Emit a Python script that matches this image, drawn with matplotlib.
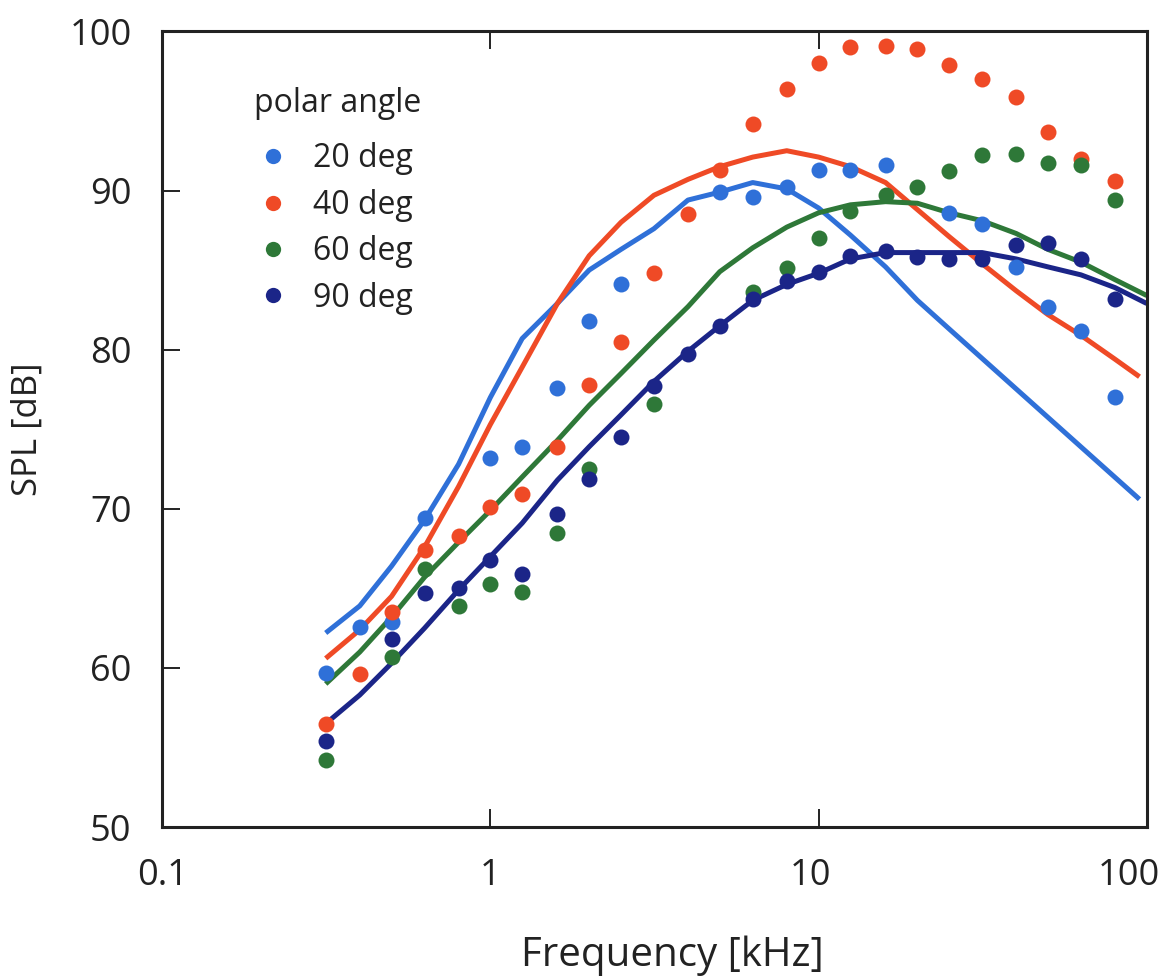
import numpy as np
import matplotlib
matplotlib.use('Agg')
import matplotlib.pyplot as plt
import matplotlib.transforms as mtransforms
from matplotlib.lines import Line2D
from matplotlib.ticker import FixedLocator, FixedFormatter, NullLocator

plt.rcParams['font.family'] = ['Open Sans', 'DejaVu Sans']

# 1/3-octave band centres [kHz]
bands = [0.315, 0.4, 0.5, 0.63, 0.8, 1, 1.25, 1.6, 2, 2.5, 3.15, 4, 5, 6.3,
         8, 10, 12.5, 16, 20, 25, 31.5, 40, 50, 63, 80]

# measured points (dots)
f_20 = [0.315, 0.4, 0.5, 0.63, 1, 1.25, 1.6, 2, 2.5, 5, 6.3, 8, 10, 12.5, 16,
        25, 31.5, 40, 50, 63, 80]
spl_20 = [59.7, 62.6, 62.9, 69.4, 73.2, 73.9, 77.6, 81.8, 84.1, 89.9, 89.6, 90.2,
          91.3, 91.3, 91.6, 88.6, 87.9, 85.2, 82.7, 81.2, 77.0]

f_40 = bands
spl_40 = [56.5, 59.6, 63.5, 67.4, 68.3, 70.1, 70.9, 73.9, 77.8, 80.5, 84.8, 88.5,
          91.3, 94.2, 96.4, 98.0, 99.0, 99.1, 98.9, 97.9, 97.0, 95.9, 93.7, 92.0, 90.6]

f_60 = [0.315, 0.5, 0.63, 0.8, 1, 1.25, 1.6, 2, 3.15, 6.3, 8, 10, 12.5, 16, 20,
        25, 31.5, 40, 50, 63, 80]
spl_60 = [54.2, 60.7, 66.2, 63.9, 65.3, 64.8, 68.5, 72.5, 76.6, 83.6, 85.1, 87.0,
          88.7, 89.7, 90.2, 91.2, 92.2, 92.3, 91.7, 91.6, 89.4]

f_90 = [0.315, 0.5, 0.63, 0.8, 1, 1.25, 1.6, 2, 2.5, 3.15, 4, 5, 6.3, 8, 10, 12.5,
        16, 20, 25, 31.5, 40, 50, 63, 80]
spl_90 = [55.4, 61.8, 64.7, 65.0, 66.8, 65.9, 69.7, 71.9, 74.5, 77.7, 79.7, 81.5,
          83.2, 84.3, 84.9, 85.9, 86.2, 85.8, 85.7, 85.7, 86.6, 86.7, 85.7, 83.2]

# model curves (lines)
fl_20 = bands[:20] + [95]
ml_20 = [62.2, 63.9, 66.4, 69.3, 72.8, 77.0, 80.7, 82.9, 85.0, 86.3, 87.6, 89.4,
         89.9, 90.5, 90.1, 88.9, 87.2, 85.2, 83.1, 81.3, 70.6]

fl_40 = bands + [95]
ml_40 = [60.6, 62.4, 64.5, 67.6, 71.4, 75.3, 78.9, 82.9, 85.9, 88.0, 89.7, 90.7,
         91.5, 92.1, 92.5, 92.1, 91.5, 90.5, 88.8, 87.1, 85.4, 83.7, 82.2, 80.9,
         79.4, 78.3]

fl_60 = bands + [100]
ml_60 = [59.0, 61.0, 63.2, 65.7, 67.9, 69.9, 72.0, 74.3, 76.5, 78.5, 80.6, 82.7,
         84.9, 86.4, 87.7, 88.6, 89.1, 89.3, 89.2, 88.6, 88.1, 87.3, 86.3, 85.5,
         84.4, 83.4]

fl_90 = bands + [100]
ml_90 = [56.5, 58.3, 60.3, 62.5, 64.9, 67.0, 69.1, 71.8, 73.9, 75.9, 78.0, 79.9,
         81.5, 83.1, 84.1, 84.8, 85.7, 86.1, 86.1, 86.1, 86.1, 85.7, 85.2, 84.7,
         83.9, 82.9]

labels = ['20 deg', '40 deg', '60 deg', '90 deg']
colors = ['#2f70d8', '#ef4a26', '#2e7838', '#1b2588']

series = [(f_20, spl_20, fl_20, ml_20), (f_40, spl_40, fl_40, ml_40),
          (f_60, spl_60, fl_60, ml_60), (f_90, spl_90, fl_90, ml_90)]

fig = plt.figure(figsize=(11.75, 9.8), dpi=100)
ax = fig.add_axes([0.138, 0.156, 0.838, 0.812])

for (f, s, fl, ml), c in zip(series, colors):
    ax.plot(fl, ml, color=c, lw=3.6, solid_capstyle='butt', zorder=2)
for (f, s, fl, ml), c in zip(series, colors):
    ax.plot(f, s, 'o', color=c, ms=11.5, mew=0, zorder=3)

ax.set_xscale('log')
ax.set_xlim(0.1, 100)
ax.set_ylim(50, 100)
ax.xaxis.set_major_locator(FixedLocator([0.1, 1, 10, 100]))
ax.xaxis.set_major_formatter(FixedFormatter(['0.1', '1', '10', '100']))
ax.xaxis.set_minor_locator(NullLocator())
ax.set_yticks([50, 60, 70, 80, 90, 100])

for sp in ax.spines.values():
    sp.set_linewidth(2.2)
    sp.set_color('#222222')
ax.tick_params(axis='both', which='major', direction='in', length=13, width=1.4,
               labelsize=26, pad=22, colors='#222222', labelcolor='#222222',
               top=True, right=False)

# the "10" and "100" labels sit a little left of their ticks in the original
fig.canvas.draw()
xlabs = ax.get_xticklabels()
for lab, dx in zip(xlabs, [0, 0, -8, -18]):
    lab.set_transform(lab.get_transform() +
                      mtransforms.ScaledTranslation(dx / 100, 0, fig.dpi_scale_trans))

ax.set_xlabel('Frequency [kHz]', fontsize=29, color='#222222')
ax.xaxis.set_label_coords(0.518, -0.136, transform=ax.transAxes)
ax.xaxis.label.set_va('top')
ax.set_ylabel('SPL [dB]', fontsize=25, labelpad=18, color='#222222')

handles = [Line2D([], [], ls='none', marker='o', ms=11, mew=0, color=c)
           for c in colors]
leg = ax.legend(handles, labels, loc='upper left', bbox_to_anchor=(0.08, 0.946),
                frameon=False, title='polar angle', alignment='left',
                fontsize=23, title_fontsize=23, handletextpad=0.65,
                labelspacing=0.42, handlelength=1.2, borderaxespad=0)
leg._legend_box.sep = 16
for t in leg.get_texts():
    t.set_color('#222222')
leg.get_title().set_color('#222222')

fig.savefig('out.png', dpi=100)
